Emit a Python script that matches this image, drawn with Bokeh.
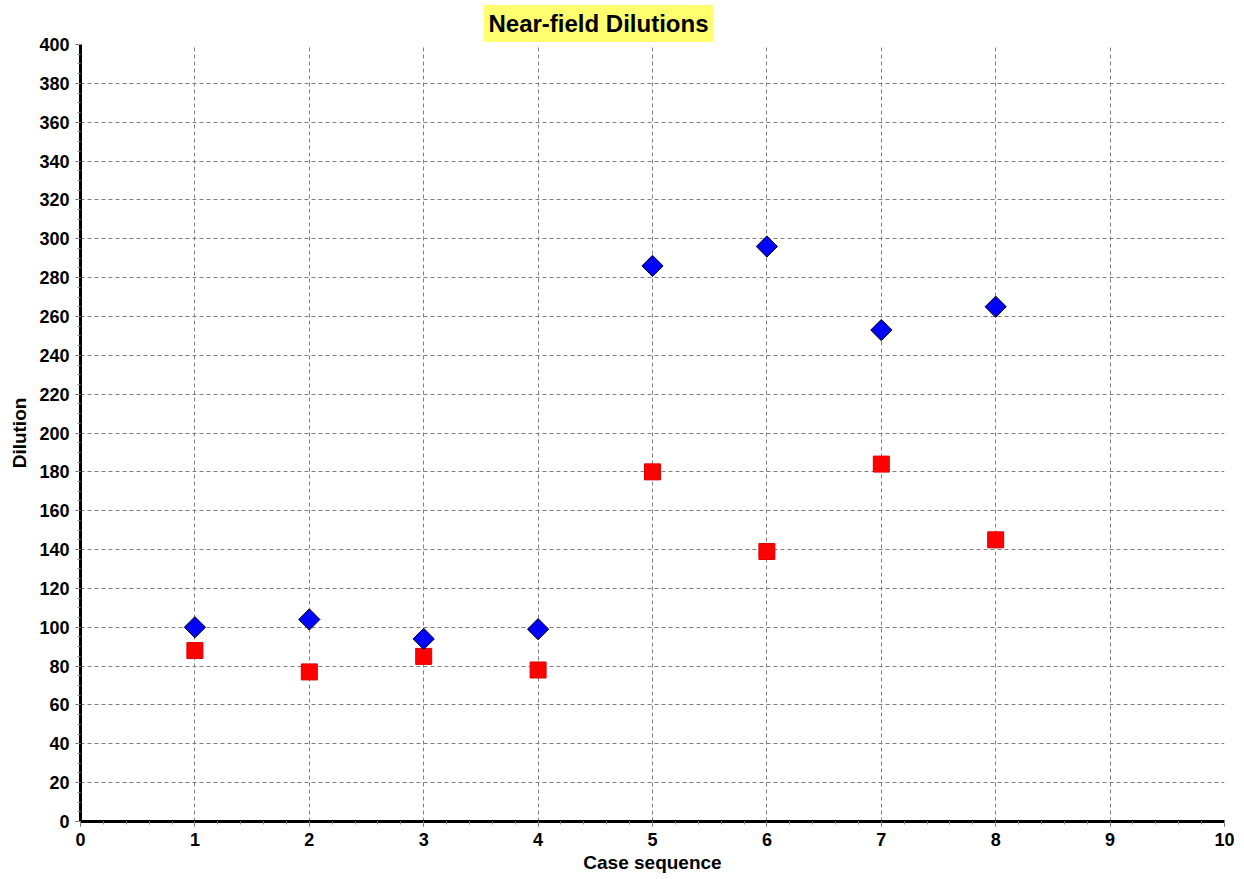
import math
from bokeh.plotting import figure
from bokeh.models import Range1d, FixedTicker
from bokeh.embed import file_html
from bokeh.resources import INLINE

case = [1, 2, 3, 4, 5, 6, 7, 8]
dil_blue = [100, 104, 94, 99, 286, 296, 253, 265]
dil_red = [88, 77, 85, 78, 180, 139, 184, 145]

x_ticks = list(range(0, 11))
y_ticks = list(range(0, 401, 20))

p = figure(width=1236, height=876, output_backend="svg", toolbar_location=None,
           x_range=Range1d(0, 10), y_range=Range1d(0, 400),
           min_border_left=80, min_border_right=12, min_border_top=17, min_border_bottom=49,
           frame_width=1144, frame_height=777,
           title="Near-field Dilutions")
p.background_fill_color = "white"
p.border_fill_color = "white"
p.outline_line_color = None

p.title.align = "left"
p.title.offset = 403
p.title.text_font = "Liberation Sans"
p.title.text_font_style = "bold"
p.title.text_font_size = "24px"
p.title.text_color = "black"
p.title.background_fill_color = "#ffff70"
p.title.padding = 5
p.title.standoff = 5

p.xaxis.ticker = FixedTicker(ticks=x_ticks, minor_ticks=[i / 5 for i in range(0, 51)])
p.yaxis.ticker = FixedTicker(ticks=y_ticks, minor_ticks=[i * 5 for i in range(0, 81)])

for ax in (p.xaxis[0], p.yaxis[0]):
    ax.axis_line_width = 3
    ax.axis_line_color = "black"
    ax.major_tick_line_color = "#666666"
    ax.major_tick_out = 5
    ax.major_tick_in = 0
    ax.minor_tick_line_color = "#888888"
    ax.minor_tick_out = 3
    ax.minor_tick_in = 0
    ax.major_label_text_font = "Liberation Sans"
    ax.major_label_text_font_style = "bold"
    ax.major_label_text_font_size = "18px"
    ax.major_label_text_color = "black"
    ax.axis_label_text_font = "Liberation Sans"
    ax.axis_label_text_font_style = "bold"
    ax.axis_label_text_font_size = "19px"
    ax.axis_label_text_color = "black"

p.xaxis.axis_label = "Case sequence"
p.yaxis.axis_label = "Dilution"
p.xaxis.major_label_standoff = 6
p.yaxis.major_label_standoff = 6
p.xaxis.axis_label_standoff = 3
p.yaxis.axis_label_standoff = 6

for g in (p.xgrid[0], p.ygrid[0]):
    g.grid_line_color = "#808080"
    g.grid_line_dash = "4 3"
    g.grid_line_width = 1

p.scatter(case, dil_red, marker="square", size=16, fill_color="#ff0000", line_color="#dd0000")
p.scatter(case, dil_blue, marker="square", size=15, angle=math.pi / 4,
          fill_color="#0000ff", line_color="black", line_width=1)

open("out.html", "w").write(file_html(p, INLINE))
